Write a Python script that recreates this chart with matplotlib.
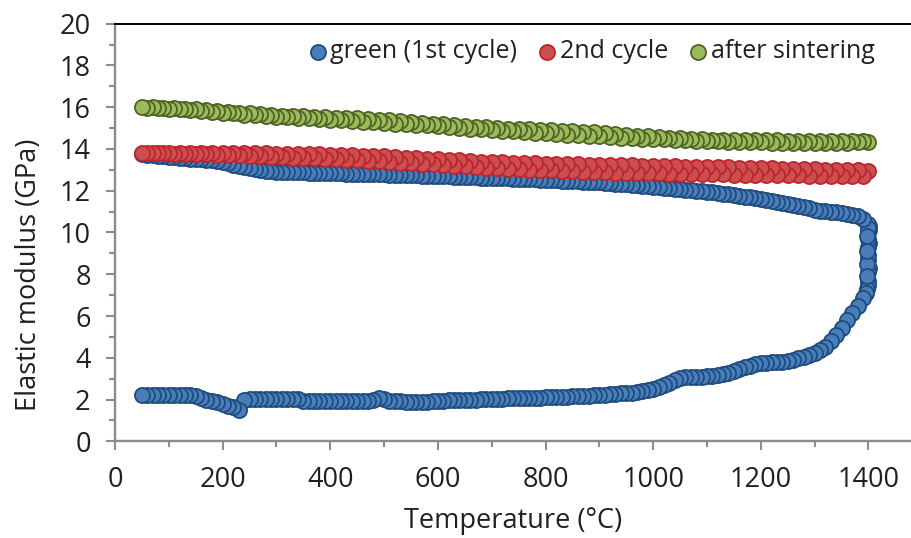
import matplotlib
matplotlib.use("Agg")
import matplotlib.pyplot as plt
from matplotlib.ticker import MultipleLocator
import numpy as np

plt.rcParams['font.family'] = ['Open Sans', 'DejaVu Sans']

# Temperature grid of the heating ramp (°C)
temp_heating = [
    50, 60, 70, 80, 90, 100, 110, 120, 130, 140,
    150, 160, 170, 180, 190, 200, 210, 220, 230, 240,
    250, 260, 270, 280, 290, 300, 310, 320, 330, 340,
    350, 360, 370, 380, 390, 400, 410, 420, 430, 440,
    450, 460, 470, 480, 490, 500, 510, 520, 530, 540,
    550, 560, 570, 580, 590, 600, 610, 620, 630, 640,
    650, 660, 670, 680, 690, 700, 710, 720, 730, 740,
    750, 760, 770, 780, 790, 800, 810, 820, 830, 840,
    850, 860, 870, 880, 890, 900, 910, 920, 930, 940,
    950, 960, 970, 980, 990, 1000, 1010, 1020, 1030, 1040,
    1050, 1060, 1070, 1080, 1090, 1100, 1110, 1120, 1130, 1140,
    1150, 1160, 1170, 1180, 1190, 1200, 1210, 1220, 1230, 1240,
    1250, 1260, 1270, 1280, 1290, 1300, 1310, 1320, 1330, 1340,
    1350, 1360, 1370, 1380, 1390,
]
temp_cooling = [1400] + temp_heating[::-1]

# Green body, first heating (GPa)
green_heat = [
    2.22, 2.23, 2.22, 2.24, 2.23, 2.22, 2.23, 2.24, 2.22, 2.23,
    2.18, 2.06, 2.00, 1.94, 1.87, 1.79, 1.71, 1.62, 1.52, 1.98,
    2.02, 2.03, 2.02, 2.02, 2.03, 2.02, 2.02, 2.03, 2.02, 2.01,
    1.93, 1.92, 1.93, 1.92, 1.93, 1.93, 1.92, 1.93, 1.94, 1.93,
    1.94, 1.95, 1.95, 1.99, 2.06, 2.02, 1.93, 1.92, 1.91, 1.90,
    1.90, 1.89, 1.90, 1.90, 1.91, 1.92, 1.94, 1.96, 1.97, 1.98,
    1.99, 2.00, 2.00, 2.01, 2.02, 2.03, 2.03, 2.04, 2.05, 2.05,
    2.06, 2.07, 2.07, 2.08, 2.09, 2.10, 2.11, 2.12, 2.13, 2.14,
    2.16, 2.17, 2.18, 2.19, 2.20, 2.22, 2.23, 2.25, 2.27, 2.29,
    2.31, 2.33, 2.36, 2.40, 2.44, 2.50, 2.58, 2.68, 2.80, 2.93,
    3.03, 3.08, 3.10, 3.10, 3.10, 3.11, 3.13, 3.17, 3.22, 3.28,
    3.38, 3.46, 3.54, 3.62, 3.70, 3.74, 3.76, 3.78, 3.80, 3.81,
    3.84, 3.90, 3.98, 4.05, 4.12, 4.22, 4.35, 4.52, 4.78, 5.10,
    5.45, 5.80, 6.15, 6.50, 6.85,
]

# Isothermal hold at the sintering temperature
hold_temp = [1396, 1398, 1399, 1400, 1397, 1399, 1401, 1398, 1400, 1399,
             1397, 1400, 1401, 1399, 1398, 1400, 1402, 1399, 1401, 1400]
hold_mod = [7.10, 7.30, 7.50, 7.70, 7.90, 8.10, 8.30, 8.50, 8.70, 8.90,
            9.10, 9.30, 9.50, 9.70, 9.85, 10.00, 10.10, 10.20, 10.30, 10.40]

# First cooling, 1390 -> 50 °C
green_cool = [
    10.65, 10.78, 10.85, 10.90, 10.95, 10.98, 11.00, 11.02, 11.05, 11.10,
    11.15, 11.20, 11.25, 11.30, 11.35, 11.40, 11.45, 11.50, 11.55, 11.60,
    11.64, 11.68, 11.72, 11.76, 11.80, 11.83, 11.86, 11.89, 11.92, 11.95,
    11.98, 12.00, 12.03, 12.05, 12.08, 12.10, 12.13, 12.15, 12.18, 12.20,
    12.22, 12.24, 12.26, 12.28, 12.30, 12.32, 12.34, 12.36, 12.38, 12.40,
    12.41, 12.43, 12.44, 12.45, 12.47, 12.48, 12.49, 12.50, 12.51, 12.52,
    12.53, 12.54, 12.55, 12.56, 12.57, 12.58, 12.59, 12.60, 12.61, 12.62,
    12.62, 12.63, 12.64, 12.65, 12.66, 12.67, 12.68, 12.69, 12.70, 12.70,
    12.71, 12.72, 12.72, 12.73, 12.74, 12.75, 12.75, 12.76, 12.77, 12.78,
    12.78, 12.79, 12.80, 12.80, 12.81, 12.82, 12.82, 12.83, 12.84, 12.85,
    12.85, 12.86, 12.86, 12.87, 12.88, 12.88, 12.89, 12.90, 12.91, 12.92,
    12.93, 12.95, 12.98, 13.02, 13.07, 13.12, 13.18, 13.25, 13.32, 13.38,
    13.42, 13.45, 13.48, 13.50, 13.52, 13.54, 13.56, 13.58, 13.60, 13.62,
    13.65, 13.68, 13.70, 13.73, 13.76,
]

# Second cycle: heating 50 -> 1390 °C (every 20 °C), cooling 1400 -> 60 °C
second_heat = [
    13.80, 13.79, 13.79, 13.78, 13.77, 13.76, 13.75, 13.73, 13.71, 13.69,
    13.67, 13.65, 13.63, 13.61, 13.59, 13.57, 13.55, 13.53, 13.51, 13.48,
    13.46, 13.43, 13.41, 13.38, 13.35, 13.32, 13.29, 13.26, 13.23, 13.20,
    13.17, 13.14, 13.11, 13.08, 13.06, 13.03, 13.01, 12.99, 12.97, 12.95,
    12.93, 12.91, 12.90, 12.89, 12.87, 12.86, 12.85, 12.84, 12.83, 12.82,
    12.81, 12.80, 12.79, 12.78, 12.78, 12.77, 12.76, 12.75, 12.75, 12.74,
    12.73, 12.73, 12.72, 12.71, 12.71, 12.70, 12.69, 12.69,
]
second_cool = [
    12.95, 12.97, 12.98, 13.00, 13.01, 13.02, 13.03, 13.05, 13.06, 13.07,
    13.08, 13.10, 13.11, 13.12, 13.13, 13.14, 13.15, 13.16, 13.17, 13.18,
    13.19, 13.20, 13.21, 13.22, 13.23, 13.24, 13.25, 13.26, 13.27, 13.28,
    13.30, 13.31, 13.32, 13.34, 13.36, 13.38, 13.40, 13.42, 13.45, 13.48,
    13.50, 13.53, 13.56, 13.59, 13.62, 13.64, 13.66, 13.68, 13.70, 13.72,
    13.73, 13.74, 13.75, 13.76, 13.77, 13.78, 13.79, 13.80, 13.80, 13.81,
    13.81, 13.82, 13.82, 13.82, 13.83, 13.83, 13.83, 13.83,
]

# After sintering: heating 50 -> 1390 °C, cooling 1400 -> 60 °C
sintered_heat = [
    16.00, 15.99, 15.98, 15.96, 15.93, 15.90, 15.86, 15.82, 15.78, 15.74,
    15.70, 15.66, 15.63, 15.60, 15.58, 15.56, 15.54, 15.52, 15.50, 15.48,
    15.46, 15.43, 15.40, 15.37, 15.34, 15.30, 15.26, 15.22, 15.18, 15.14,
    15.10, 15.07, 15.04, 15.01, 14.98, 14.96, 14.94, 14.92, 14.90, 14.88,
    14.85, 14.82, 14.79, 14.76, 14.72, 14.68, 14.64, 14.60, 14.57, 14.54,
    14.51, 14.48, 14.46, 14.44, 14.43, 14.42, 14.42, 14.41, 14.41, 14.41,
    14.40, 14.40, 14.40, 14.40, 14.40, 14.39, 14.39, 14.38,
]
sintered_cool = [
    14.35, 14.33, 14.31, 14.30, 14.30, 14.30, 14.30, 14.30, 14.30, 14.31,
    14.32, 14.33, 14.34, 14.35, 14.36, 14.38, 14.40, 14.42, 14.44, 14.46,
    14.48, 14.50, 14.52, 14.54, 14.57, 14.60, 14.63, 14.66, 14.69, 14.72,
    14.75, 14.78, 14.81, 14.84, 14.87, 14.90, 14.94, 14.98, 15.02, 15.06,
    15.10, 15.13, 15.16, 15.19, 15.22, 15.25, 15.28, 15.31, 15.34, 15.37,
    15.40, 15.43, 15.46, 15.49, 15.52, 15.55, 15.58, 15.61, 15.65, 15.70,
    15.74, 15.78, 15.82, 15.86, 15.90, 15.93, 15.95, 15.97,
]

series_labels = ['green (1st cycle)', '2nd cycle', 'after sintering']

TEXT = '#231f20'
AXIS_GREY = '#8c8c8c'
FS = 19.5

fig = plt.figure(figsize=(9.12, 5.38), dpi=100)
ax = fig.add_axes([115 / 912, 1 - 441.3 / 538, 1 - 115 / 912, (441.3 - 23.7) / 538])


def draw_series(temps, values, face, edge, label, z):
    t = np.asarray(temps, dtype=float)
    v = np.asarray(values, dtype=float)
    order = np.argsort(-t, kind='stable')
    return ax.scatter(t[order], v[order], s=118, facecolor=face, edgecolor=edge,
                      linewidths=1.3, label=label, zorder=z)


h1 = draw_series(temp_heating + hold_temp + temp_heating[::-1],
                 green_heat + hold_mod + green_cool,
                 '#4a7ebb', '#1f4c7e', series_labels[0], 3)
h2 = draw_series(temp_heating[::2] + temp_cooling[::2],
                 second_heat + second_cool,
                 '#c9504f', '#c0232b', series_labels[1], 4)
h3 = draw_series(temp_heating[::2] + temp_cooling[::2],
                 sintered_heat + sintered_cool,
                 '#9bbb59', '#4f6228', series_labels[2], 5)

ax.set_xlim(0, 1481)
ax.set_ylim(0, 20)
ax.xaxis.set_major_locator(MultipleLocator(200))
ax.xaxis.set_minor_locator(MultipleLocator(100))
ax.yaxis.set_major_locator(MultipleLocator(2))
ax.yaxis.set_minor_locator(MultipleLocator(1))

ax.spines['right'].set_visible(False)
ax.spines['top'].set_color('black')
ax.spines['top'].set_linewidth(1.4)
for side in ('left', 'bottom'):
    ax.spines[side].set_color(AXIS_GREY)
    ax.spines[side].set_linewidth(1.7)

ax.tick_params(which='major', direction='out', length=6.5, width=1.5,
               color=AXIS_GREY, labelsize=FS, labelcolor=TEXT, pad=11)
ax.tick_params(which='minor', direction='out', length=4.5, width=1.5,
               color=AXIS_GREY)
ax.tick_params(top=False, right=False, which='both')

ax.set_xlabel('Temperature (°C)', fontsize=FS, color=TEXT, labelpad=10)
ax.set_ylabel('Elastic modulus (GPa)', fontsize=FS, color=TEXT)
ax.yaxis.set_label_coords(-0.09, 0.398)

leg = ax.legend(handles=[h1, h2, h3], loc='center', ncol=3,
                bbox_to_anchor=((592.5 - 115) / 797, (441.3 - 52) / 417.6),
                frameon=False, fontsize=18, handlelength=0.6, handletextpad=0.2,
                columnspacing=0.9, borderpad=0, borderaxespad=0)
for txt in leg.get_texts():
    txt.set_color(TEXT)

fig.savefig('out.png', dpi=100)
